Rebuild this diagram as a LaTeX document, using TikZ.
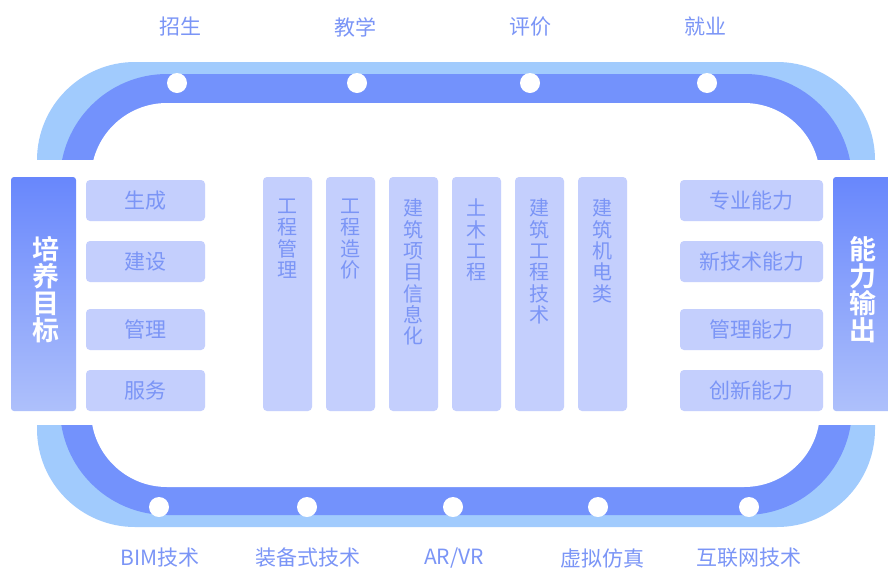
\documentclass[tikz,border=0pt]{standalone}
\usepackage{fontspec}
\newfontfamily\cjk{Noto Sans CJK SC}[BoldFont={Noto Sans CJK SC Bold}]
\usetikzlibrary{positioning}
\definecolor{lightband}{HTML}{A1CBFD}
\definecolor{darkband}{HTML}{7392FC}
\definecolor{boxfill}{HTML}{C4CFFD}
\definecolor{txt}{HTML}{7B95F6}
\definecolor{bigtop}{HTML}{6887FC}
\definecolor{bigbot}{HTML}{AEC0FB}
\begin{document}
\begin{tikzpicture}[x=1pt,y=-1pt,
  smallbox/.style={fill=boxfill, rounded corners=4pt, minimum height=41pt, inner sep=0pt,
    font=\cjk\fontsize{21}{24}\selectfont, text=txt},
  colbox/.style={fill=boxfill, rounded corners=4pt, minimum width=49pt, minimum height=234pt, inner sep=0pt},
  coltext/.style={inner sep=0pt, align=center, text=txt, font=\cjk\fontsize{20}{21.3}\selectfont},
  bigbox/.style={top color=bigtop, bottom color=bigbot, draw=none, rounded corners=3pt,
    minimum width=65pt, minimum height=234pt, inner sep=0pt},
  bigtext/.style={inner sep=0pt, align=center, text=white, font=\cjk\bfseries\fontsize{27}{27}\selectfont},
  dot/.style={circle, fill=white, minimum size=20pt, inner sep=0pt},
  label/.style={inner sep=0pt, text=txt, font=\cjk\fontsize{21}{24}\selectfont}]
\useasboundingbox (0,0) rectangle (888,571);
% ring track
\fill[lightband, rounded corners=98pt] (37,62) rectangle (875,527);
\fill[darkband, rounded corners=107pt] (60,74) rectangle (852,515);
\fill[white, rounded corners=76pt] (91,103) rectangle (820,487);
\fill[white] (0,160) rectangle (888,425);
% dots
\node[dot] (dt1) at (177,83) {};
\node[dot] (dt2) at (357,83) {};
\node[dot] (dt3) at (530,83) {};
\node[dot] (dt4) at (707,83) {};
\node[dot] (db1) at (159,507) {};
\node[dot] (db2) at (307,507) {};
\node[dot] (db3) at (453,507) {};
\node[dot] (db4) at (598,507) {};
\node[dot] (db5) at (749,507) {};
% labels
\node[label] (lt1) at (180,27) {招生};
\node[label] (lt2) at (355,27) {教学};
\node[label] (lt3) at (530,27) {评价};
\node[label] (lt4) at (705,27) {就业};
\node[label] (lb1) at (160,558) {BIM技术};
\node[label] (lb2) at (308,558) {装备式技术};
\node[label] (lb3) at (454,558) {AR/VR};
\node[label] (lb4) at (602,558) {虚拟仿真};
\node[label] (lb5) at (749,558) {互联网技术};
% left big box
\node[bigbox] (goal) at (43.5,294) {};
\node[bigtext] (goalt) at (46,290) {培\\养\\目\\标};
% right big box
\node[bigbox] (out) at (865.5,294) {};
\node[bigtext] (outt) at (863,290) {能\\力\\输\\出};
% left small boxes
\node[smallbox, minimum width=119pt] (l1) at (145.5,200.5) {生成};
\node[smallbox, minimum width=119pt] (l2) at (145.5,261.5) {建设};
\node[smallbox, minimum width=119pt] (l3) at (145.5,329.5) {管理};
\node[smallbox, minimum width=119pt] (l4) at (145.5,390.5) {服务};
% right small boxes
\node[smallbox, minimum width=143pt] (r1) at (751.5,200.5) {专业能力};
\node[smallbox, minimum width=143pt] (r2) at (751.5,261.5) {新技术能力};
\node[smallbox, minimum width=143pt] (r3) at (751.5,329.5) {管理能力};
\node[smallbox, minimum width=143pt] (r4) at (751.5,390.5) {创新能力};
% columns
\node[colbox] (c1) at (287.5,294) {};
\node[colbox] (c2) at (350.5,294) {};
\node[colbox] (c3) at (413.5,294) {};
\node[colbox] (c4) at (476.5,294) {};
\node[colbox] (c5) at (539.5,294) {};
\node[colbox] (c6) at (602.5,294) {};
\node[coltext, below=22pt of c1.north] (ct1) {工\\程\\管\\理};
\node[coltext, below=22pt of c2.north] (ct2) {工\\程\\造\\价};
\node[coltext, below=22pt of c3.north] (ct3) {建\\筑\\项\\目\\信\\息\\化};
\node[coltext, below=22pt of c4.north] (ct4) {土\\木\\工\\程};
\node[coltext, below=22pt of c5.north] (ct5) {建\\筑\\工\\程\\技\\术};
\node[coltext, below=22pt of c6.north] (ct6) {建\\筑\\机\\电\\类};
\end{tikzpicture}
\end{document}
